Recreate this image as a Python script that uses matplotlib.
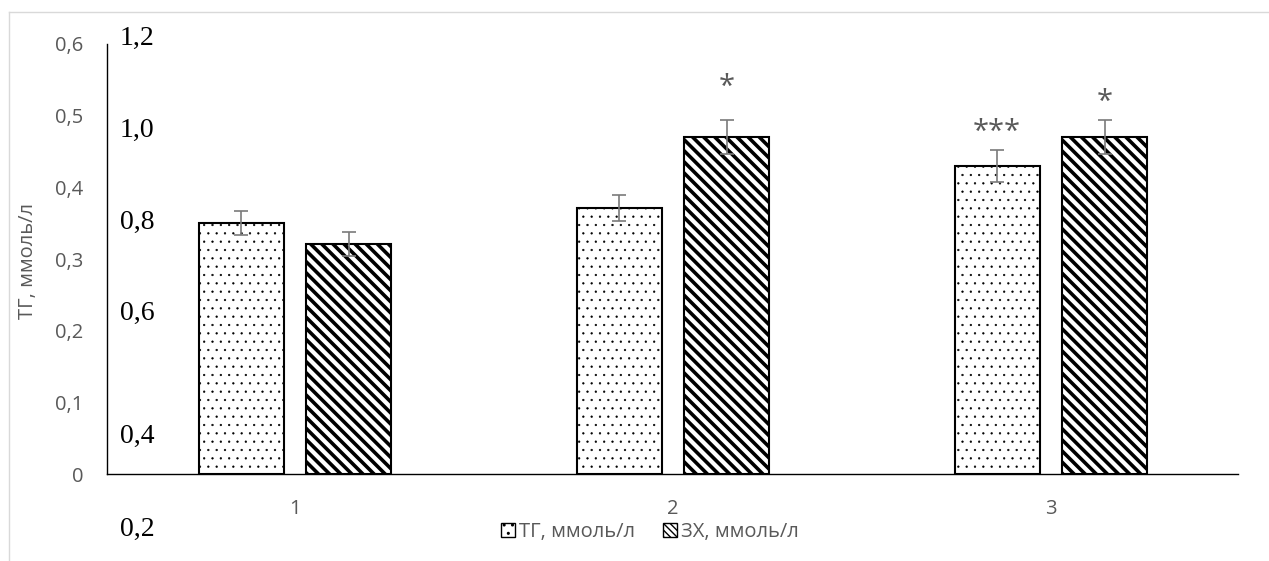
import matplotlib
matplotlib.use("Agg")
import matplotlib.pyplot as plt
from matplotlib.patches import Patch
from matplotlib.lines import Line2D
import numpy as np

plt.rcParams['font.family'] = ['Open Sans', 'DejaVu Sans']

groups = ["1", "2", "3"]
tg = [0.350, 0.371, 0.430]          # ТГ, ммоль/л (left axis)
tg_err = [0.017, 0.018, 0.022]
zh = [0.735, 0.984, 0.984]          # ЗХ, ммоль/л (second axis, 0.2 .. 1.2)
zh_err = [0.027, 0.040, 0.040]
tg_marks = ["", "", "***"]
zh_marks = ["", "*", "*"]
left_ticks = [0, 0.1, 0.2, 0.3, 0.4, 0.5, 0.6]
right_labels = ["1,2", "1,0", "0,8", "0,6", "0,4", "0,2"]

W, H = 1269, 561
GRAY = "#595959"
ERR = "#7a7a7a"

fig = plt.figure(figsize=(W / 100, H / 100), dpi=100)
ax = fig.add_axes([107 / W, 1 - 474 / H, (1238 - 107) / W, (474 - 44) / H])
ax2 = ax.twinx()

x = np.arange(len(groups))
w = 0.225
off = 0.142

tg_bars = ax.bar(x - off, tg, w, color="white", edgecolor="black",
                 linewidth=1.5, hatch="..")
zh_bars = ax2.bar(x + off, np.array(zh) - 0.2, w, bottom=0.2, color="white",
                  edgecolor="black", linewidth=1.5, hatch="\\\\\\")
for b in tg_bars:
    if hasattr(b, "set_hatch_linewidth"):
        b.set_hatch_linewidth(0.4)
for b in zh_bars:
    if hasattr(b, "set_hatch_linewidth"):
        b.set_hatch_linewidth(2.6)

ax.errorbar(x - off, tg, yerr=tg_err, fmt="none", ecolor=ERR,
            elinewidth=1.2, capsize=4.7, capthick=1.2)
ax2.errorbar(x + off, zh, yerr=zh_err, fmt="none", ecolor=ERR,
             elinewidth=1.2, capsize=4.7, capthick=1.2)

ax.set_xlim(-0.497, 2.495)
ax.set_ylim(0, 0.6)
ax2.set_ylim(0.2, 1.2)

ax.set_yticks(left_ticks)
ax.set_yticklabels([("%g" % t).replace(".", ",") for t in left_ticks])
ax.set_xticks(x)
ax.set_xticklabels(groups)
ax.tick_params(axis="y", length=0, pad=17, labelsize=14.5, labelcolor=GRAY)
ax.tick_params(axis="x", length=0, pad=18, labelsize=14.5, labelcolor=GRAY)
for s in ["top", "right"]:
    ax.spines[s].set_visible(False)
for s in ax.spines.values():
    s.set_linewidth(1.0)
    s.set_color("black")
for s in ax2.spines.values():
    s.set_visible(False)
ax2.set_yticks([])

# significance marks above the bars
mark_y = {(1, "zh"): 0.539, (2, "zh"): 0.519, (2, "tg"): 0.477}
for i in range(len(groups)):
    if tg_marks[i]:
        ax.text(x[i] - off, mark_y[(i, "tg")], tg_marks[i], ha="center",
                va="center", fontsize=21, color=GRAY)
    if zh_marks[i]:
        ax.text(x[i] + off, mark_y[(i, "zh")], zh_marks[i], ha="center",
                va="center", fontsize=21, color=GRAY)

fig.text(28 / W, 1 - 261 / H, "ТГ, ммоль/л", rotation=90, ha="center",
         va="center", fontsize=14.5, color=GRAY)

# labels of the second scale
right_y = [38, 130, 222, 313, 436, 529]
for lab, py in zip(right_labels, right_y):
    fig.text(120 / W, 1 - py / H, lab, ha="left", va="center",
             fontsize=20, family="Liberation Serif", color="black")

handles = [Patch(facecolor="white", edgecolor="black", hatch="..", label="ТГ, ммоль/л"),
           Patch(facecolor="white", edgecolor="black", hatch="\\\\\\\\\\", label="ЗХ, ммоль/л")]
leg = fig.legend(handles=handles, loc="center", bbox_to_anchor=(650 / W, 1 - 532 / H),
                 ncol=2, frameon=False, fontsize=14.5, handlelength=0.7,
                 handleheight=0.7, handletextpad=0.2, columnspacing=1.4)
for t in leg.get_texts():
    t.set_color(GRAY)

# outer chart frame
fig.add_artist(Line2D([9 / W, 1], [1 - 12 / H, 1 - 12 / H], color="#d9d9d9", lw=1))
fig.add_artist(Line2D([9 / W, 9 / W], [0, 1 - 12 / H], color="#d9d9d9", lw=1))

fig.savefig("out.png", dpi=100)
